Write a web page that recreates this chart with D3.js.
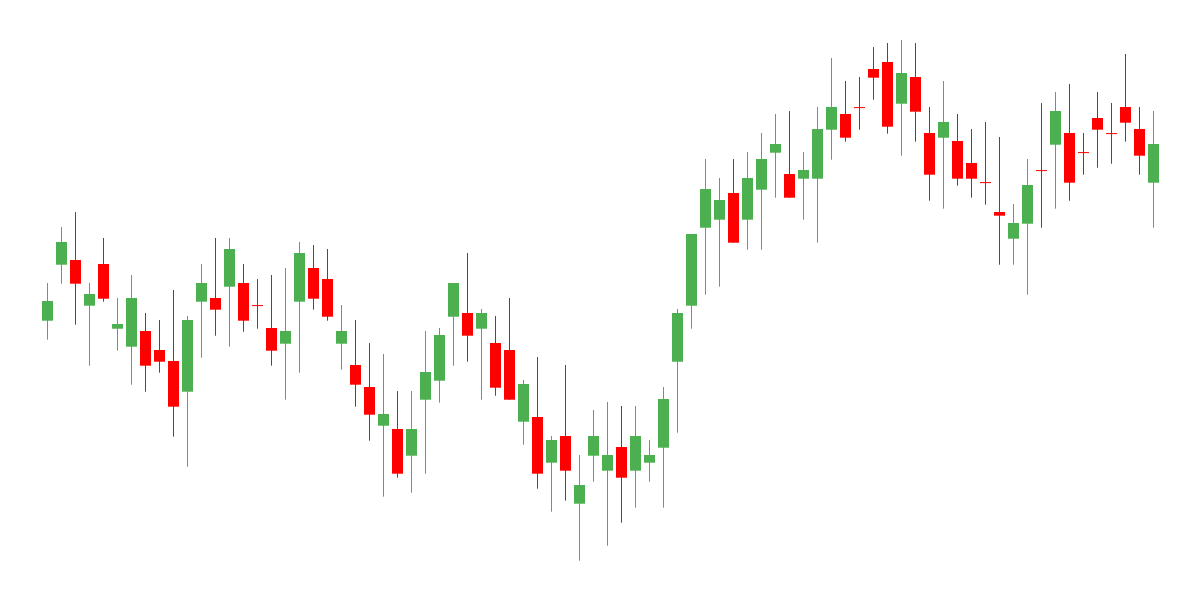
<!DOCTYPE html>
<html>
<head>
<meta charset="utf-8">
<script src="https://cdn.jsdelivr.net/npm/d3@7"></script>
<style>
  html, body { margin: 0; padding: 0; background: #fff; }
  svg { display: block; }
</style>
</head>
<body>
<script>
// candle values (one entry per bar)
var opens  = [279.3, 335.3, 340, 294.3, 336, 271.3, 253.3, 269, 250, 239,
              208.3, 298.3, 302, 313.3, 317, 294.9, 272, 256.3, 298.3, 332,
              321, 256.3, 235, 213, 174.3, 171, 144.3, 200.3, 219.3, 283.3,
              287, 271.3, 257, 250, 178.3, 183, 137.3, 164, 96.3, 144.3,
              129.3, 153, 129.3, 137.3, 152.3, 238.3, 294.3, 372.3, 380.3, 407,
              380.3, 410.3, 447.3, 426, 421.3, 421.3, 470.3, 486, 492.9, 531,
              538, 496.3, 523, 467, 462.3, 459, 437, 417.9, 388, 361.3,
              376.3, 429.9, 455.3, 467, 447.9, 482, 466.9, 493, 471, 417.3];
var highs  = [317, 373, 388, 317, 362, 302, 325, 287, 280, 310,
              284, 336, 362, 362, 336, 321, 325, 332, 358, 355,
              351, 295, 280, 257, 246, 209, 209, 269, 272, 317,
              347, 291, 284, 302, 220, 243, 164, 235, 145, 190,
              198, 194, 194, 160, 213, 291, 366, 441, 422, 441,
              448, 467, 486, 489, 448, 493, 542, 519, 523, 553,
              557, 560, 557, 493, 519, 486, 471, 478, 463, 396,
              441, 497, 508, 516, 467, 508, 497, 546, 493, 489];
var lows   = [260.3, 316.3, 275.3, 234.3, 298.3, 249.3, 215.3, 208.3, 227.3, 163.3,
              133.3, 242.3, 264.3, 253.3, 268.3, 271.3, 234.3, 200.3, 227.3, 290.3,
              279.3, 230.3, 193.3, 159.3, 103.3, 122.3, 107.3, 126.3, 197.3, 234.3,
              238.3, 200.3, 204.3, 200.3, 155.3, 111.3, 88.3, 99.3, 39.3, 118.3,
              54.3, 77.3, 92.3, 118.3, 92.3, 167.3, 271.3, 305.3, 313.3, 357.3,
              350.3, 350.3, 402.3, 402.3, 380.3, 357.3, 440.3, 458.3, 470.3, 500.3,
              466.3, 444.3, 458.3, 399.3, 391.3, 414.3, 402.3, 395.3, 335.3, 335.3,
              305.3, 372.3, 391.3, 399.3, 425.3, 432.3, 436.3, 458.3, 425.3, 372.3];
var closes = [299, 358, 316.3, 306, 301.3, 276, 302, 234.3, 238.3, 193.3,
              280, 317, 290.3, 351, 279.3, 294.5, 249.3, 269, 347, 301.3,
              283.3, 269, 215.3, 185.3, 186, 126.3, 171, 228, 265, 317,
              264.3, 287, 212.3, 200.3, 216, 126.3, 160, 129.3, 115, 164,
              145, 122.3, 164, 145, 201, 287, 366, 411, 400, 357.3,
              422, 441, 456, 402.3, 430, 471, 493, 462.3, 492.5, 522.3,
              473.3, 527, 488.3, 425.3, 478, 421.3, 421.3, 417.5, 384.3, 377,
              415, 429.5, 489, 417.3, 447.5, 470.3, 466.5, 477.3, 444.3, 456];

var upColor = "#4caf50";
var downColor = "#ff0000";

var width = 1200,
    height = 600;

var candles = opens.map(function(o, i) {
  return { i: i, open: o, high: highs[i], low: lows[i], close: closes[i] };
});

// one band per candle, 14px step with an 11px body
var x = d3.scaleBand()
    .domain(candles.map(function(d) { return d.i; }))
    .range([40.5, 1160.5])
    .paddingInner(3 / 14)
    .paddingOuter(1.5 / 14);

var y = d3.scaleLinear()
    .domain([0, 600])
    .range([height, 0]);

var svg = d3.select("body").append("svg")
    .attr("width", width)
    .attr("height", height);

var candle = svg.selectAll(".candle")
    .data(candles)
  .enter().append("g")
    .attr("class", "candle")
    .attr("fill", function(d) { return d.close >= d.open ? upColor : downColor; })
    .attr("stroke", function(d) { return d.close >= d.open ? upColor : downColor; });

// wick
candle.append("line")
    .attr("x1", function(d) { return x(d.i) + x.bandwidth() / 2; })
    .attr("x2", function(d) { return x(d.i) + x.bandwidth() / 2; })
    .attr("y1", function(d) { return y(d.high); })
    .attr("y2", function(d) { return y(d.low); })
    .attr("stroke-width", 1);

// body
candle.append("rect")
    .attr("x", function(d) { return x(d.i); })
    .attr("width", x.bandwidth())
    .attr("y", function(d) { return y(Math.max(d.open, d.close)); })
    .attr("height", function(d) { return Math.max(1, Math.abs(y(d.open) - y(d.close))); })
    .attr("stroke", "none");
</script>
</body>
</html>
